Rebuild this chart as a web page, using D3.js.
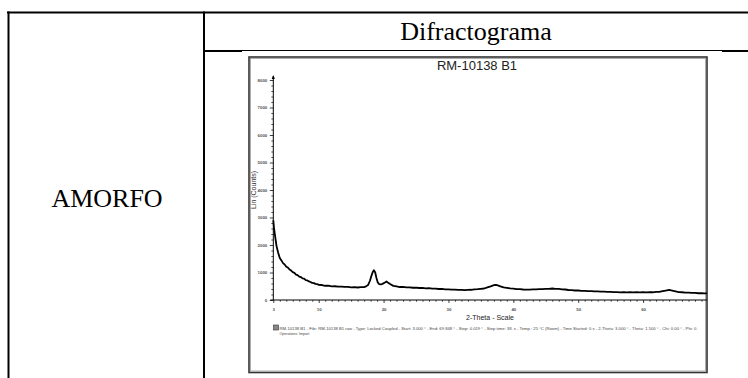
<!DOCTYPE html>
<html>
<head>
<meta charset="utf-8">
<script src="https://cdn.jsdelivr.net/npm/d3@7"></script>
<style>
  body { margin: 0; background: #fff; }
  svg { display: block; }
</style>
</head>
<body>
<div id="chart"></div>
<script>
// diffractogram values
const twoTheta = [
  3.0, 3.1, 3.2, 3.35, 3.5, 3.75, 4.0, 4.25, 4.5, 4.75, 5.0, 5.25, 5.5, 5.75,
  6.0, 6.25, 6.5, 6.75, 7.0, 7.25, 7.5, 7.75, 8.0, 8.25, 8.5, 8.75, 9.0, 9.25,
  9.5, 9.75, 10.0, 10.5, 11.0, 11.5, 12.0, 12.5, 13.0, 13.5, 14.0, 14.5, 15.0,
  15.5, 16.0, 16.5, 17.0, 17.3, 17.6, 17.9, 18.1, 18.3, 18.5, 18.7, 18.9, 19.1,
  19.3, 19.6, 19.9, 20.2, 20.45, 20.7, 21.0, 21.5, 22.0, 22.5, 23.0, 23.5, 24.0,
  24.5, 25.0, 25.5, 26.0, 26.5, 27.0, 27.5, 28.0, 28.5, 29.0, 29.5, 30.0, 30.5,
  31.0, 31.5, 32.0, 32.5, 33.0, 33.5, 34.0, 34.5, 35.0, 35.5, 36.0, 36.5, 37.0,
  37.3, 37.6, 38.0, 38.5, 39.0, 39.5, 40.0, 40.5, 41.0, 41.5, 42.0, 42.5, 43.0,
  43.5, 44.0, 44.5, 45.0, 45.5, 46.0, 46.5, 47.0, 47.5, 48.0, 48.5, 49.0, 49.5,
  50.0, 50.5, 51.0, 51.5, 52.0, 52.5, 53.0, 53.5, 54.0, 54.5, 55.0, 55.5, 56.0,
  56.5, 57.0, 57.5, 58.0, 58.5, 59.0, 59.5, 60.0, 60.5, 61.0, 61.5, 62.0, 62.5,
  63.0, 63.5, 64.0, 64.5, 65.0, 65.5, 66.0, 66.5, 67.0, 67.5, 68.0, 68.5, 69.0,
  69.5, 69.85
];
const counts = [
  2900, 2650, 2450, 2200, 1960, 1720, 1530, 1440, 1340, 1290, 1210, 1180, 1110, 1070,
  1010, 990, 925, 905, 850, 835, 785, 775, 725, 710, 675, 655, 620, 615,
  585, 580, 550, 545, 518, 520, 498, 500, 485, 488, 474, 476, 462,
  466, 455, 465, 468, 495, 545, 700, 860, 1000, 1080, 1010, 800, 640,
  580, 565, 595, 635, 675, 625, 580, 515, 495, 472, 475, 458, 460,
  446, 450, 436, 442, 426, 430, 416, 414, 400, 402, 386, 389, 376,
  378, 366, 369, 360, 370, 372, 388, 392, 408, 418, 462, 498, 538,
  548, 528, 498, 462, 444, 422, 414, 398, 395, 382, 380, 376, 386,
  384, 394, 396, 408, 406, 418, 408, 404, 386, 382, 364, 362, 346,
  346, 332, 334, 321, 324, 312, 316, 304, 308, 294, 298, 286, 290,
  280, 286, 276, 282, 274, 281, 275, 282, 276, 284, 281, 292, 298,
  320, 342, 364, 338, 312, 286, 282, 268, 268, 256, 258, 246, 248,
  238, 242
];
const xTickValues = [3, 10, 20, 30, 40, 50, 60];
const yTickValues = [0, 1000, 2000, 3000, 4000, 5000, 6000, 7000, 8000];

const rowLabel = "AMORFO";
const headerLabel = "Difractograma";
const chartTitle = "RM-10138 B1";
const legendLine1 = "RM-10138 B1 - File: RM-10138 B1.raw - Type: Locked Coupled - Start: 3.000 \u00b0 - End: 69.848 \u00b0 - Step: 0.019 \u00b0 - Step time: 38. s - Temp.: 25 \u00b0C (Room) - Time Started: 0 s - 2-Theta: 3.000 \u00b0 - Theta: 1.500 \u00b0 - Chi: 0.00 \u00b0 - Phi: 0.";
const legendLine2 = "Operations: Import";

const width = 748, height = 378;
const svg = d3.select("#chart").append("svg")
  .attr("width", width)
  .attr("height", height);

// table frame
const table = svg.append("g").attr("stroke", "#000").attr("fill", "none");
table.append("line").attr("x1", 7).attr("x2", 748).attr("y1", 12.5).attr("y2", 12.5).attr("stroke-width", 2);
table.append("line").attr("x1", 8.5).attr("x2", 8.5).attr("y1", 11.5).attr("y2", 378).attr("stroke-width", 2);
table.append("line").attr("x1", 204).attr("x2", 204).attr("y1", 11.5).attr("y2", 378).attr("stroke-width", 2);
table.append("line").attr("x1", 203).attr("x2", 242).attr("y1", 51).attr("y2", 51).attr("stroke-width", 2);
table.append("line").attr("x1", 242).attr("x2", 722).attr("y1", 50.5).attr("y2", 50.5).attr("stroke-width", 1);
table.append("line").attr("x1", 722).attr("x2", 748).attr("y1", 51).attr("y2", 51).attr("stroke-width", 2);

svg.append("text")
  .attr("x", 476).attr("y", 40)
  .attr("text-anchor", "middle")
  .attr("font-family", "Liberation Serif, Times New Roman, serif")
  .attr("font-size", 26)
  .text(headerLabel);

svg.append("text")
  .attr("x", 107).attr("y", 207)
  .attr("text-anchor", "middle")
  .attr("font-family", "Liberation Serif, Times New Roman, serif")
  .attr("font-size", 26)
  .text(rowLabel);

// embedded scan picture
svg.append("rect")
  .attr("x", 249).attr("y", 57)
  .attr("width", 458).attr("height", 315.5)
  .attr("fill", "#fff")
  .attr("stroke", "#333")
  .attr("stroke-width", 1.6);
svg.append("rect")
  .attr("x", 250.5).attr("y", 58.5)
  .attr("width", 455).attr("height", 312.5)
  .attr("fill", "none")
  .attr("stroke", "#999")
  .attr("stroke-width", 0.8);

const plot = { left: 273.3, right: 707, top: 80, bottom: 300 };
const x = d3.scaleLinear().domain([3, 69.85]).range([plot.left, plot.right]);
const y = d3.scaleLinear().domain([0, 8000]).range([plot.bottom, plot.top]);

const sans = "Liberation Sans, Arial, sans-serif";

svg.append("text")
  .attr("x", 477).attr("y", 69.5)
  .attr("text-anchor", "middle")
  .attr("font-family", sans)
  .attr("font-size", 13)
  .attr("fill", "#222")
  .text(chartTitle);

// y axis: major ticks + minor every 200
const yAxis = svg.append("g")
  .attr("transform", `translate(${plot.left},0)`)
  .call(d3.axisLeft(y).tickValues(yTickValues).tickSize(3.5).tickPadding(2.5).tickFormat(d3.format("d")));
yAxis.select(".domain").remove();
yAxis.selectAll("text").attr("font-family", sans).attr("font-size", 4.4).attr("font-weight", "bold").attr("fill", "#555");
yAxis.selectAll("line").attr("stroke", "#111").attr("stroke-width", 0.8);

const yMinor = svg.append("g")
  .attr("transform", `translate(${plot.left},0)`)
  .call(d3.axisLeft(y).tickValues(d3.range(200, 8200, 200).filter(d => d % 1000)).tickSize(2).tickFormat(""));
yMinor.select(".domain").remove();
yMinor.selectAll("line").attr("stroke", "#111").attr("stroke-width", 0.7);

svg.append("line")
  .attr("x1", plot.left).attr("x2", plot.left)
  .attr("y1", plot.bottom).attr("y2", 76)
  .attr("stroke", "#000").attr("stroke-width", 1);
svg.append("path")
  .attr("d", `M${plot.left - 1.6},79 L${plot.left},75 L${plot.left + 1.6},79 Z`)
  .attr("fill", "#000");

// x axis
const xAxis = svg.append("g")
  .attr("transform", `translate(0,${plot.bottom})`)
  .call(d3.axisBottom(x).tickValues(xTickValues).tickSize(3).tickPadding(4.5).tickFormat(d3.format("d")));
xAxis.select(".domain").remove();
xAxis.selectAll("text").attr("font-family", sans).attr("font-size", 4.4).attr("font-weight", "bold").attr("fill", "#555");
xAxis.selectAll("line").attr("stroke", "#111").attr("stroke-width", 0.8);

const xMinor = svg.append("g")
  .attr("transform", `translate(0,${plot.bottom})`)
  .call(d3.axisBottom(x).tickValues(d3.range(4, 70, 1).filter(d => d % 10)).tickSize(1.8).tickFormat(""));
xMinor.select(".domain").remove();
xMinor.selectAll("line").attr("stroke", "#111").attr("stroke-width", 0.7);

svg.append("line")
  .attr("x1", plot.left - 3).attr("x2", plot.right)
  .attr("y1", plot.bottom).attr("y2", plot.bottom)
  .attr("stroke", "#000").attr("stroke-width", 1);

// axis titles
svg.append("text")
  .attr("transform", `translate(256,190) rotate(-90)`)
  .attr("text-anchor", "middle")
  .attr("font-family", sans)
  .attr("font-size", 7)
  .attr("fill", "#333")
  .text("Lin (Counts)");

svg.append("text")
  .attr("x", 490).attr("y", 320)
  .attr("text-anchor", "middle")
  .attr("font-family", sans)
  .attr("font-size", 7)
  .attr("fill", "#222")
  .text("2-Theta - Scale");

// scan trace
const points = twoTheta.map((t, i) => [t, counts[i]]);
svg.append("path")
  .datum(points)
  .attr("fill", "none")
  .attr("stroke", "#000")
  .attr("stroke-width", 1.8)
  .attr("stroke-linejoin", "round")
  .attr("d", d3.line().x(d => x(d[0])).y(d => y(d[1])));

// legend
svg.append("rect")
  .attr("x", 273.5).attr("y", 325).attr("width", 5).attr("height", 5)
  .attr("fill", "#888").attr("stroke", "#333").attr("stroke-width", 0.6);
svg.append("text")
  .attr("x", 279.5).attr("y", 329.5)
  .attr("font-family", sans)
  .attr("font-size", 3.6)
  .attr("fill", "#444")
  .attr("textLength", 418)
  .attr("lengthAdjust", "spacingAndGlyphs")
  .text(legendLine1);
svg.append("text")
  .attr("x", 279.5).attr("y", 334.5)
  .attr("font-family", sans)
  .attr("font-size", 3.6)
  .attr("fill", "#444")
  .text(legendLine2);
</script>
</body>
</html>
